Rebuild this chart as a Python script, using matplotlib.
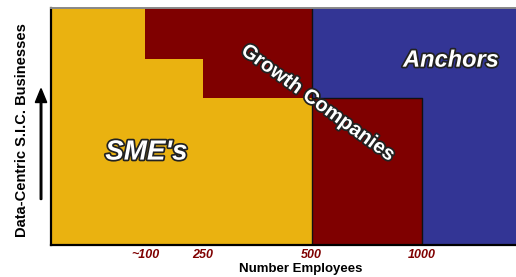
import matplotlib.pyplot as plt
import matplotlib.patheffects as pe
from matplotlib.patches import FancyArrow

# step boundaries along the employee axis (axis units 0-100)
edges = [0, 20.2, 32.7, 56.1, 79.8, 100]
tick_labels = ['~100', '250', '500', '1000']

# share of the vertical axis held by each group in each segment
sme = [1.0, 0.785, 0.62, 0.0, 0.0]
growth = [0.0, 0.215, 0.38, 0.62, 0.0]
anchors = [0.0, 0.0, 0.0, 0.38, 1.0]

yellow = '#EAB210'
red = '#7F0000'
blue = '#333595'
font = 'Liberation Sans'

fig = plt.figure(figsize=(5.16, 2.77), dpi=100)
ax = fig.add_axes([0.0988, 0.1155, 0.9012, 0.8555])

lefts = edges[:-1]
widths = [edges[i + 1] - edges[i] for i in range(len(lefts))]
ax.bar(lefts, sme, width=widths, align='edge', color=yellow, linewidth=0)
ax.bar(lefts, growth, width=widths, bottom=sme, align='edge', color=red, linewidth=0)
bottoms = [s + g for s, g in zip(sme, growth)]
ax.bar(lefts, anchors, width=widths, bottom=bottoms, align='edge', color=blue, linewidth=0)

# dark outlines around the lower growth block
ax.plot([edges[3], edges[3]], [0, 1], color='#111111', lw=1.0)
ax.plot([edges[3], edges[4], edges[4]], [growth[3], growth[3], 0], color='#111111', lw=1.0)

ax.set_xlim(0, 100)
ax.set_ylim(0, 1)
ax.set_xticks(edges[1:5])
ax.set_xticklabels(tick_labels, color=red, fontstyle='italic', fontweight='bold',
                   fontsize=9, family=font)
ax.tick_params(axis='x', length=0, pad=3)
ax.set_yticks([])
for s in ['left', 'bottom']:
    ax.spines[s].set_linewidth(1.6)
ax.spines['top'].set_color('#888888')
ax.spines['top'].set_linewidth(1.4)
ax.spines['right'].set_visible(False)

fig.text(0.583, 0.03, 'Number Employees', ha='center', va='center',
         fontweight='bold', fontsize=9.5, family=font)
fig.text(0.043, 0.529, 'Data-Centric S.I.C. Businesses', rotation=90, ha='center', va='center',
         fontweight='bold', fontsize=10.5, family=font)
fig.patches.append(FancyArrow(
    0.0795, 0.28, 0, 0.40, width=0.003, head_width=0.022, head_length=0.05,
    length_includes_head=True, color='black', transform=fig.transFigure))

outline = [pe.withStroke(linewidth=2.5, foreground='#222222')]
ax.text(20.5, 0.39, "SME's", color='white', fontsize=20, fontstyle='italic', fontweight='bold',
        family=font, ha='center', va='center', path_effects=outline)
ax.text(86.0, 0.78, 'Anchors', color='white', fontsize=17, fontstyle='italic', fontweight='bold',
        family=font, ha='center', va='center', path_effects=outline)
ax.text(57.4, 0.60, 'Growth Companies', color='white', fontsize=14.5, fontweight='bold',
        family=font, ha='center', va='center', rotation=-36, rotation_mode='anchor',
        path_effects=outline)

fig.savefig('out.png', dpi=100)
